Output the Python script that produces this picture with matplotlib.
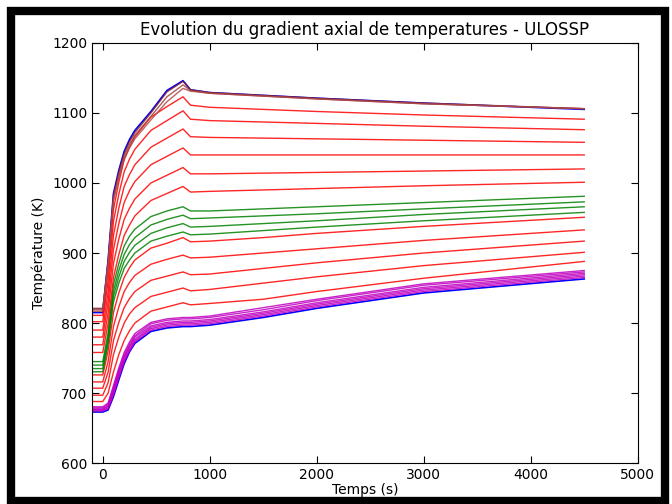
import numpy as np
import matplotlib
matplotlib.use("Agg")
import matplotlib.pyplot as plt
from matplotlib.patches import Rectangle

# common time grid (s)
temps = [-100, 0, 50, 100, 150, 200, 250, 300, 450, 600, 750, 820, 1000, 1500, 2000, 3000, 4500]

# bottom blue + magenta band
blue_bas = [673, 673, 676, 695, 719, 742, 759, 771, 788, 793, 795, 795, 797, 808, 821, 843, 863]
magenta = [
    [674.5, 674.5, 678, 698, 722, 745, 760, 773, 790, 795, 797, 797, 799, 810, 823, 845, 865],
    [675.5, 675.5, 679, 700, 724, 747, 762, 775, 792, 797, 799, 799, 801, 812, 825, 847, 867],
    [676.5, 676.5, 681, 703, 727, 750, 765, 777, 794, 799, 801, 801, 803, 814, 827, 849, 869],
    [677.5, 677.5, 682, 705, 730, 752, 767, 780, 796, 801, 803, 803, 805, 816, 829, 851, 871],
    [679, 679, 684, 708, 733, 755, 770, 782, 799, 804, 806, 806, 808, 819, 832, 854, 873],
    [680.5, 680.5, 686, 711, 736, 758, 773, 785, 801, 806, 808, 808, 810, 822, 834, 856, 875],
]

# lower red curves
rouge_bas = [
    [688, 688, 700, 730, 755, 775, 789, 800, 817, 823, 829, 826, 828, 834, 845, 864, 888],
    [697, 697, 715, 755, 780, 800, 813, 822, 838, 844, 850, 846, 848, 857, 866, 882, 901],
    [707, 707, 730, 775, 801, 822, 835, 845, 861, 867, 873, 869, 870, 878, 886, 900, 917],
    [716, 716, 745, 795, 823, 845, 858, 868, 884, 891, 897, 893, 894, 900, 906, 918, 933],
    [726, 726, 760, 815, 843, 865, 879, 890, 907, 914, 922, 916, 917, 922, 928, 938, 951],
]

# green curves
vert = [
    [730.5, 730.5, 770, 830, 857, 878, 890, 900, 917, 924, 930, 926, 927, 932, 937, 946, 958],
    [735, 735, 775, 838, 866, 888, 901, 911, 928, 936, 942, 937, 938, 942, 946, 955, 966],
    [740, 740, 780, 846, 875, 898, 912, 922, 940, 948, 954, 949, 950, 953, 956, 963, 973],
    [745, 745, 786, 855, 885, 910, 924, 934, 952, 960, 966, 960, 960, 963, 966, 972, 981],
]

# upper red curves
rouge_haut = [
    [758, 758, 800, 865, 898, 925, 940, 953, 975, 985, 995, 987, 988, 990, 992, 996, 1001],
    [769, 769, 815, 885, 920, 948, 964, 977, 1000, 1011, 1022, 1013, 1013, 1014, 1015, 1017, 1020],
    [780, 780, 830, 905, 942, 972, 989, 1002, 1026, 1038, 1050, 1040, 1040, 1040, 1040, 1040, 1040],
    [790, 790, 845, 925, 964, 995, 1012, 1026, 1051, 1064, 1077, 1066, 1065, 1064, 1063, 1061, 1058],
    [802, 802, 860, 945, 984, 1016, 1034, 1048, 1075, 1089, 1103, 1091, 1089, 1087, 1085, 1081, 1076],
    [811, 811, 875, 962, 1001, 1033, 1051, 1066, 1094, 1109, 1123, 1111, 1108, 1105, 1102, 1097, 1091],
]

# top group
blue_haut = [815, 815, 890, 985, 1018, 1045, 1062, 1075, 1102, 1132, 1146, 1133, 1129, 1125, 1121, 1114, 1105]
brun = [
    [821, 821, 888, 982, 1015, 1042, 1059, 1072, 1100, 1130, 1145, 1133, 1129, 1125, 1121, 1114, 1106],
    [819, 819, 885, 978, 1011, 1038, 1055, 1068, 1095, 1123, 1140, 1132, 1128, 1124, 1120, 1113, 1106],
    [817, 817, 882, 974, 1007, 1034, 1050, 1063, 1090, 1116, 1135, 1131, 1128, 1124, 1120, 1113, 1106],
]

fig = plt.figure(figsize=(6.72, 5.04), dpi=100)
ax = fig.add_axes([0.137, 0.081, 0.812, 0.834])

ax.plot(temps, blue_bas, color="blue", lw=1.2)
ax.plot(temps, blue_haut, color="blue", lw=1.2)
for c in magenta:
    ax.plot(temps, c, color="#c000c0", lw=1.0, alpha=0.85)
for c in rouge_bas:
    ax.plot(temps, c, color="red", lw=1.0, alpha=0.85)
for c in vert:
    ax.plot(temps, c, color="green", lw=1.0, alpha=0.85)
for c in rouge_haut:
    ax.plot(temps, c, color="red", lw=1.0, alpha=0.85)
brun_couleurs = ["#7a2030", "#a04040", "#b04848"]
for c, col in zip(brun, brun_couleurs):
    ax.plot(temps, c, color=col, lw=1.0, alpha=0.85)

ax.set_xlim(-100, 5000)
ax.set_ylim(600, 1200)
ax.set_xticks(np.arange(0, 5001, 1000))
ax.set_yticks(np.arange(600, 1201, 100))
ax.tick_params(direction="in", top=True, right=True, labelsize=10, length=5)
ax.set_title("Evolution du gradient axial de temperatures - ULOSSP", fontsize=12)
ax.set_xlabel("Temps (s)", fontsize=10, labelpad=1)
ax.set_ylabel("Température (K)", fontsize=10)

# black frame around the figure
fig.patches.append(Rectangle((11, 3), 654, 490, transform=None, fill=False,
                             edgecolor="black", linewidth=6))

fig.savefig("out.png", dpi=100)
